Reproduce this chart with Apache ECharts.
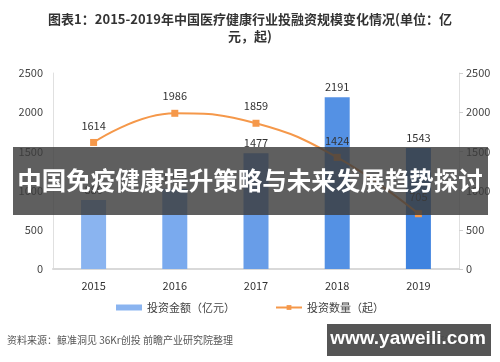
<!DOCTYPE html>
<html><head><meta charset="utf-8">
<script src="https://cdn.jsdelivr.net/npm/echarts@6/dist/echarts.min.js"></script>
<style>html,body{margin:0;padding:0;background:#fff}#c{width:500px;height:362px}</style>
</head><body><div id="c"></div>
<script>
var years = ['2015','2016','2017','2018','2019'];
var amount = [880, 1025, 1477, 2191, 1543];
var deals = [1614, 1986, 1859, 1424, 705];
var yTicks = [0, 500, 1000, 1500, 2000, 2500];
var barColors = ['#8ab4f0','#7aaaee','#689de8','#5491e4','#3f83df'];
var F = '"Noto Sans CJK SC","Microsoft YaHei",sans-serif';
var chart = echarts.init(document.getElementById('c'));
function fmt(v){return String(v);}
chart.setOption({
  animation:false,
  textStyle:{fontFamily:F},
  grid:{left:53,right:41,top:73,bottom:93},
  title:{text:'图表1：2015-2019年中国医疗健康行业投融资规模变化情况(单位：亿\n元，起)',left:'center',top:6,
    textStyle:{fontSize:13,fontWeight:'bold',color:'#333',lineHeight:17,fontFamily:F,align:'center'}},
  legend:{bottom:44,left:'center',itemGap:40,itemWidth:26,itemHeight:6,textStyle:{fontSize:11,color:'#444'},
    data:[{name:'投资金额（亿元）',icon:'rect'},{name:'投资数量（起）'}]},
  xAxis:{type:'category',data:years,axisLine:{lineStyle:{color:'#d9d9d9',width:2}},axisTick:{show:false},
    axisLabel:{fontSize:11,color:'#333',margin:11}},
  yAxis:[{type:'value',min:yTicks[0],max:yTicks[yTicks.length-1],interval:500,position:'left',splitLine:{show:false},
    axisLine:{show:true,lineStyle:{color:'#e0e0e0'}},axisTick:{show:false},axisLabel:{fontSize:11,color:'#444',margin:10,formatter:fmt}},
    {type:'value',min:yTicks[0],max:yTicks[yTicks.length-1],interval:500,position:'right',splitLine:{show:false},
    axisLine:{show:true,lineStyle:{color:'#e0e0e0'}},axisTick:{show:true,length:4,lineStyle:{color:'#d0d0d0'}},axisLabel:{fontSize:11,color:'#444',margin:7,formatter:fmt}}],
  series:[
    {name:'投资金额（亿元）',type:'bar',barWidth:25,itemStyle:{color:barColors[0]},
     data:amount.map(function(v,i){return {value:v,itemStyle:{color:barColors[i]}};}),
     label:{show:true,position:'top',distance:5,fontSize:11,color:'#333'}},
    {name:'投资数量（起）',type:'line',smooth:0.45,symbol:'rect',symbolSize:7,
     itemStyle:{color:'#f5984a'},lineStyle:{color:'#f5984a',width:2},data:deals,
     label:{show:true,position:'top',distance:8,fontSize:11,color:'#333'}}
  ],
  graphic:[
    {type:'rect',z:100,shape:{x:13,y:147,width:475,height:68},style:{fill:'rgba(60,60,60,0.82)'}},
    {type:'text',z:101,x:250,y:181,style:{text:'中国免疫健康提升策略与未来发展趋势探讨',fill:'#fff',font:'bold 24.5px '+F,textAlign:'center',textVerticalAlign:'middle'}},
    {type:'text',z:50,left:7,top:335,style:{text:'资料来源：鲸准洞见 36Kr创投 前瞻产业研究院整理',fill:'#555',font:'10px '+F}},
    {type:'text',z:50,left:395,top:335,style:{text:'@前瞻经济学人APP',fill:'#666',font:'10px '+F}},
    {type:'rect',z:100,shape:{x:327,y:324,width:164,height:32},style:{fill:'rgba(70,70,70,0.92)'}},
    {type:'text',z:101,x:408,y:339,style:{text:'www.yaweili.com',fill:'#fff',font:'bold 19px "Liberation Sans",Arial,sans-serif',textAlign:'center',textVerticalAlign:'middle'}}
  ]
});
</script></body></html>
